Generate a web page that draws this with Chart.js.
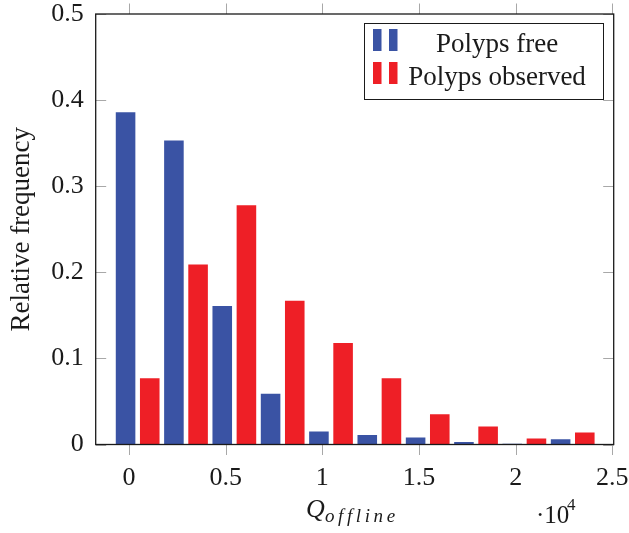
<!DOCTYPE html>
<html>
<head>
<meta charset="utf-8">
<script src="https://cdn.jsdelivr.net/npm/chart.js@4.4.1/dist/chart.umd.min.js"></script>
<style>
  html, body { margin: 0; padding: 0; background: #fff; }
</style>
</head>
<body>
<canvas id="histChart" width="629" height="533"></canvas>
<script>
// Q_offline bins, in units of 10^4
const binStart = [0, 0.25, 0.5, 0.75, 1, 1.25, 1.5, 1.75, 2, 2.25];
const polypsFree = [0.386, 0.353, 0.161, 0.059, 0.015, 0.011, 0.008, 0.003, 0.001, 0.006];
const polypsObserved = [0.077, 0.209, 0.278, 0.167, 0.118, 0.077, 0.035, 0.021, 0.007, 0.014];
const seriesLabels = ['Polyps free', 'Polyps observed'];
const xTicks = [0, 0.5, 1, 1.5, 2, 2.5];
const yTicks = [0, 0.1, 0.2, 0.3, 0.4, 0.5];

const blue = '#3a53a4';
const red = '#ee1f26';
const serif = '"Liberation Serif", "Times New Roman", serif';
const shift = [-0.0175, 0.1075]; // bar shift of each series inside a bin

function toPoints(values, s) {
    return values.map((v, i) => ({ x: binStart[i] + s, y: v }));
}

// frame, pgfplots style tick marks, legend and axis label
const decorations = {
    id: 'decorations',
    afterDraw(chart) {
        const ctx = chart.ctx;
        const a = chart.chartArea;
        const xs = chart.scales.x, ys = chart.scales.y;
        const tl = 10.5;
        ctx.save();

        ctx.strokeStyle = '#a8a8a8';
        ctx.lineWidth = 1;
        ctx.beginPath();
        xTicks.forEach(v => {
            const px = Math.round(xs.getPixelForValue(v)) + 0.5;
            ctx.moveTo(px, a.bottom); ctx.lineTo(px, a.bottom + tl);
            ctx.moveTo(px, a.top); ctx.lineTo(px, a.top - tl);
        });
        yTicks.forEach(v => {
            const py = Math.round(ys.getPixelForValue(v)) + 0.5;
            ctx.moveTo(a.left, py); ctx.lineTo(a.left + tl, py);
            ctx.moveTo(a.right, py); ctx.lineTo(a.right - tl, py);
        });
        ctx.stroke();

        ctx.strokeStyle = '#1a1a1a';
        ctx.lineWidth = 1.3;
        ctx.strokeRect(a.left, a.top, a.right - a.left, a.bottom - a.top);

        // legend
        const lx = 364, ly = 23, lw = 239, lh = 76;
        ctx.fillStyle = '#fff';
        ctx.fillRect(lx, ly, lw, lh);
        ctx.lineWidth = 1;
        ctx.strokeStyle = '#1a1a1a';
        ctx.strokeRect(lx + 0.5, ly + 0.5, lw, lh);
        chart.data.datasets.forEach((ds, i) => {
            const top = ly + 6 + i * 33;
            ctx.fillStyle = ds.backgroundColor;
            ctx.fillRect(lx + 9, top, 8.5, 22);
            ctx.fillRect(lx + 25, top, 8.5, 22);
            ctx.fillStyle = '#1a1a1a';
            ctx.font = '27px ' + serif;
            ctx.textAlign = 'center';
            ctx.textBaseline = 'alphabetic';
            ctx.fillText(ds.label, lx + 133, top + 23);
        });

        // x axis label Q_offline and scale factor
        ctx.fillStyle = '#1a1a1a';
        ctx.textAlign = 'left';
        ctx.font = 'italic 26px ' + serif;
        ctx.fillText('Q', 306, 517);
        ctx.font = 'italic 19px ' + serif;
        let cx = 325;
        for (const ch of 'offline') {
            ctx.fillText(ch, cx, 522);
            cx += ctx.measureText(ch).width + 3.6;
        }
        ctx.font = '25px ' + serif;
        ctx.fillText('\u00b710', 536, 523);
        ctx.font = '17px ' + serif;
        ctx.fillText('4', 567, 510);
        ctx.restore();
    }
};

const histCtx = document.getElementById('histChart').getContext('2d');
const histChart = new Chart(histCtx, {
    type: 'bar',
    data: {
        datasets: [
            {
                label: seriesLabels[0],
                data: toPoints(polypsFree, shift[0]),
                backgroundColor: blue
            },
            {
                label: seriesLabels[1],
                data: toPoints(polypsObserved, shift[1]),
                backgroundColor: red
            }
        ]
    },
    options: {
        responsive: false,
        animation: false,
        devicePixelRatio: 1,
        grouped: false,
        categoryPercentage: 1,
        barPercentage: 0.81,
        borderWidth: 0,
        layout: { padding: { left: 0, top: 14, right: 15.3, bottom: 0 } },
        scales: {
            x: {
                type: 'linear',
                min: -0.172,
                max: 2.507,
                offset: false,
                grid: { display: false, drawTicks: false },
                border: { display: false },
                afterBuildTicks: s => { s.ticks = xTicks.map(v => ({ value: v })); },
                afterFit: s => {
                    s.height = 88.5;
                    s.paddingLeft = 0;
                    s.paddingRight = 0;
                },
                ticks: {
                    padding: 18,
                    color: '#1a1a1a',
                    font: { family: serif, size: 26 },
                    maxRotation: 0,
                    callback: v => String(v)
                }
            },
            y: {
                min: 0,
                max: 0.5,
                grid: { display: false, drawTicks: false },
                border: { display: false },
                afterBuildTicks: s => { s.ticks = yTicks.map(v => ({ value: v })); },
                afterFit: s => {
                    s.width = 95.7;
                    s.paddingTop = 0;
                    s.paddingBottom = 0;
                },
                ticks: {
                    padding: 12,
                    color: '#1a1a1a',
                    font: { family: serif, size: 26 },
                    callback: v => String(v)
                },
                title: {
                    display: true,
                    text: 'Relative frequency',
                    color: '#1a1a1a',
                    font: { family: serif, size: 27 },
                    padding: { top: 6, bottom: 0 }
                }
            }
        },
        plugins: {
            legend: { display: false },
            tooltip: { enabled: false }
        }
    },
    plugins: [decorations]
});
</script>
</body>
</html>
